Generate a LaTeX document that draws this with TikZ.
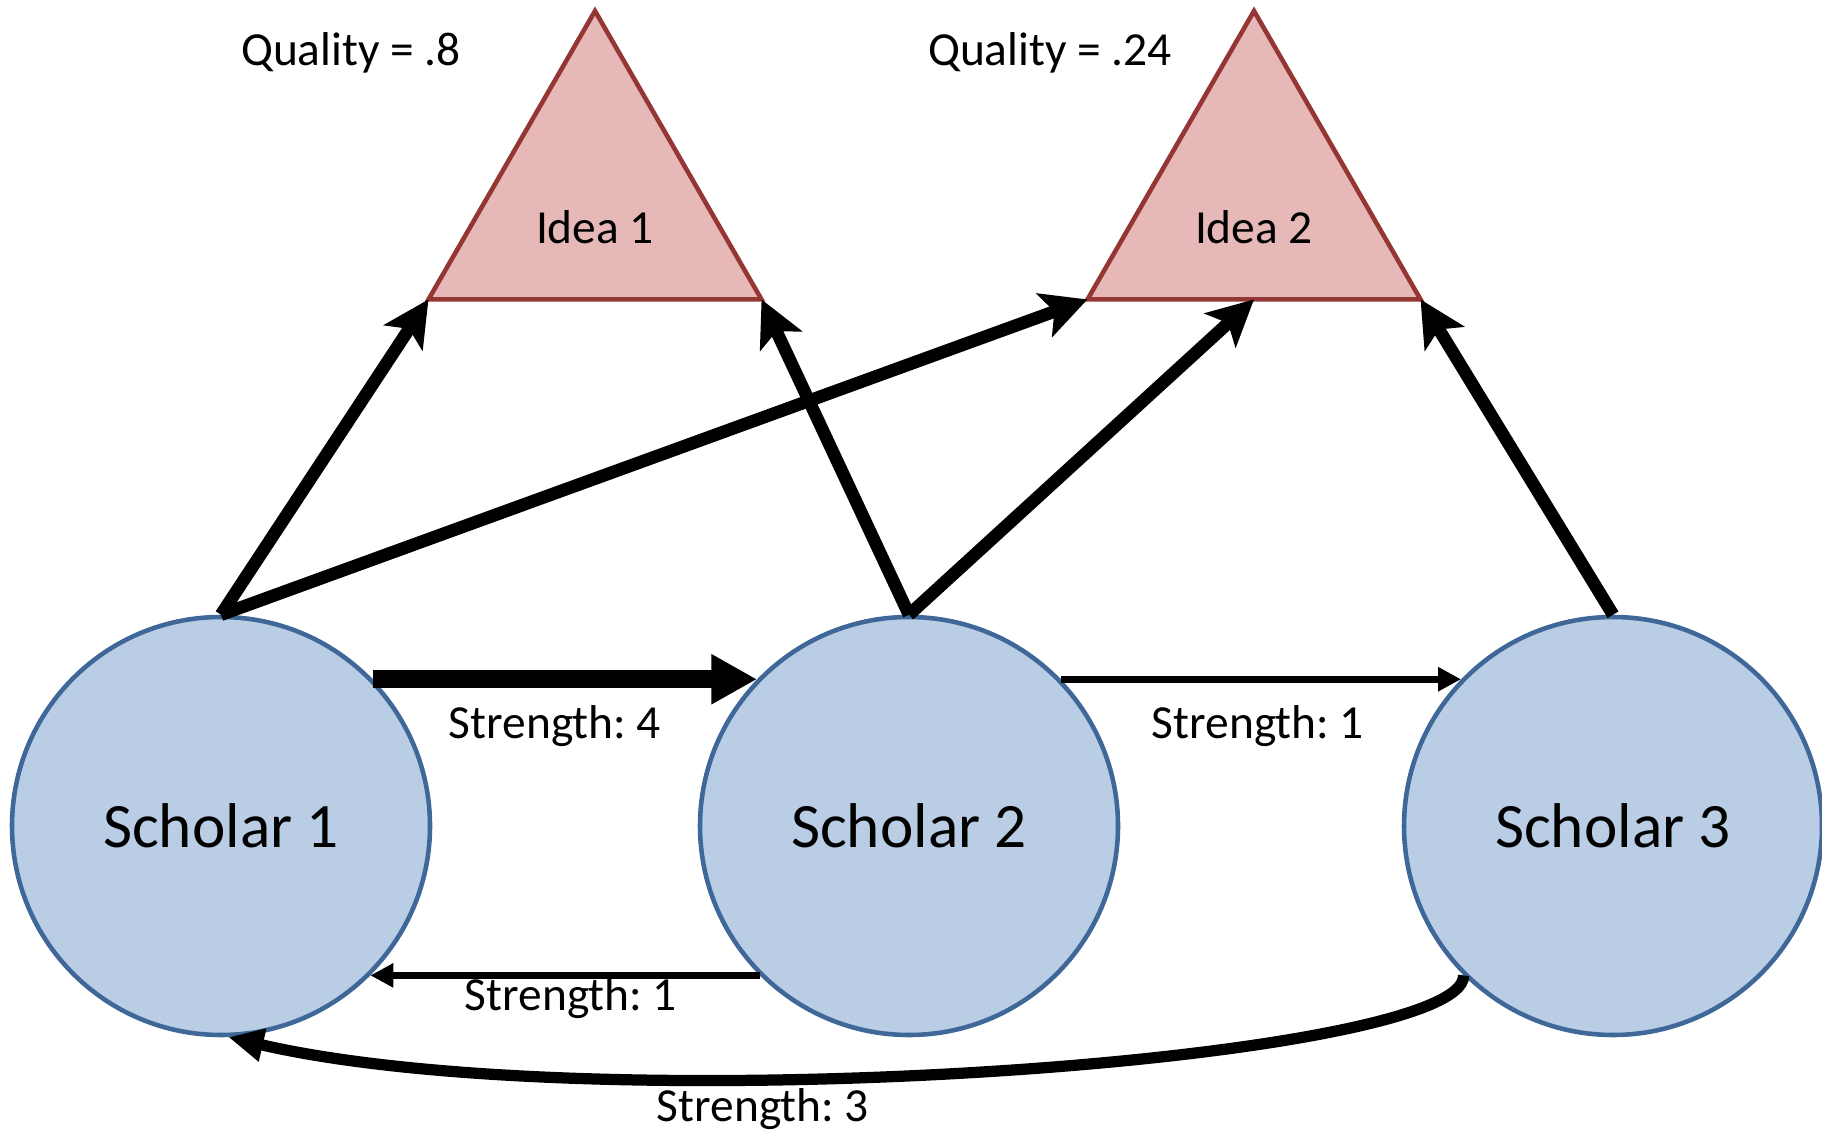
\documentclass[tikz,border=0pt]{standalone}
\usepackage{fontspec}
\setmainfont{Carlito}
\frenchspacing
\usetikzlibrary{arrows.meta,shapes.geometric}
\definecolor{scholarfill}{HTML}{B9CDE5}
\definecolor{scholarline}{HTML}{3F6899}
\definecolor{ideafill}{HTML}{E6B9B8}
\definecolor{idealine}{HTML}{943634}
\tikzset{
  scholar/.style={circle, draw=scholarline, fill=scholarfill, line width=1.3pt,
    minimum size=4.18cm, inner sep=0pt, font=\fontsize{18}{22}\selectfont},
  idea/.style={regular polygon, regular polygon sides=3, draw=idealine,
    fill=ideafill, line width=1.3pt, minimum size=3.846cm, inner sep=0pt, outer sep=0pt},
  txt/.style={anchor=base, inner sep=0pt, font=\fontsize{13.5}{16}\selectfont},
  works/.style={line width=3.6pt, -{Stealth[length=13pt,width=13pt,inset=3pt]}},
  strength4/.style={line width=5pt, -{Triangle[length=13pt,width=13.4pt]}},
  strength3/.style={line width=3.2pt, -{Triangle[length=10pt,width=9pt]}},
  strength1/.style={line width=2.1pt, -{Triangle[length=6.5pt,width=6.5pt]}}
}
\begin{document}
\begin{tikzpicture}
    \useasboundingbox (0,0) rectangle (18.22,11.31);
    % ideas
    \node[idea] (i1) at (5.95,9.277) {};
    \node[idea] (i2) at (12.54,9.277) {};
    \node[txt] (i1t) at (5.95,8.87) {Idea 1};
    \node[txt] (i2t) at (12.54,8.87) {Idea 2};
    \node[txt] (q1) at (3.51,10.65) {Quality = .8};
    \node[txt] (q2) at (10.50,10.65) {Quality = .24};
    % scholars
    \node[scholar] (s1) at (2.21,3.05) {Scholar 1};
    \node[scholar] (s2) at (9.09,3.05) {Scholar 2};
    \node[scholar] (s3) at (16.13,3.05) {Scholar 3};
    % work on ideas
    \draw[works] (s1.north) -- (i1.corner 2);
    \draw[works] (s1.north) -- (i2.corner 2);
    \draw[works] (s2.north) -- (i1.corner 3);
    \draw[works] (s2.north) -- (i2.side 2);
    \draw[works] (s3.north) -- (i2.corner 3);
    % links between scholars
    \draw[strength4] (s1.44) -- (s2.136);
    \draw[strength1] (s2.44) -- (s3.136);
    \draw[strength1] (s2.225) -- (s1.-45);
    \draw[strength3] (s3.225) .. controls (14.66,0.7) and (6,0.08) .. (s1.-88);
    \node[txt] (l12) at (5.55,3.93) {Strength: 4};
    \node[txt] (l23) at (12.58,3.93) {Strength: 1};
    \node[txt] (l21) at (5.71,1.21) {Strength: 1};
    \node[txt] (l31) at (7.63,0.10) {Strength: 3};
\end{tikzpicture}
\end{document}
